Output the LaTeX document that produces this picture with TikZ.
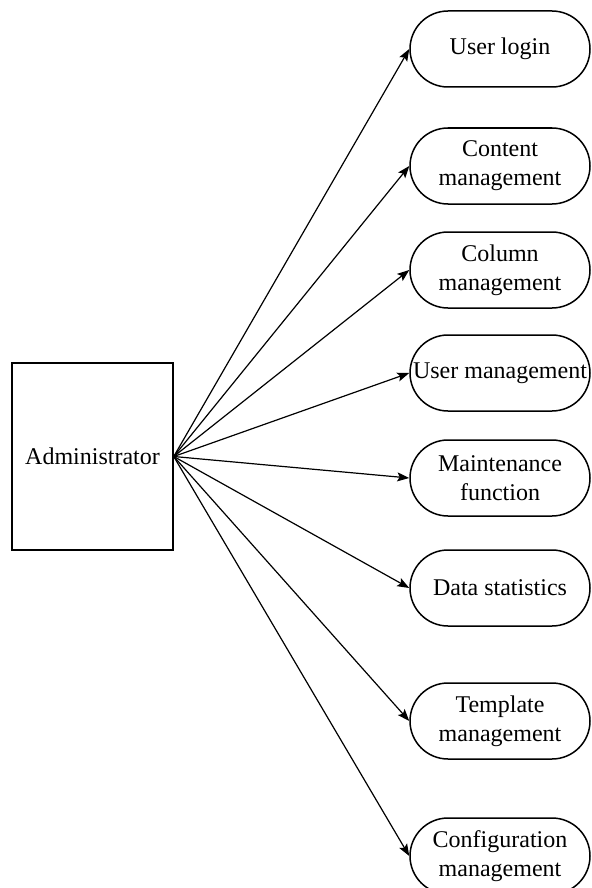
\documentclass[tikz,border=0pt]{standalone}
\usepackage{fontspec}
\setmainfont{Liberation Serif}
\usepackage{tikz}
\usetikzlibrary{shapes,arrows.meta}
\tikzset{actor/.style={rectangle,draw,line width=0.75pt,minimum width=80.5pt,minimum height=93.5pt,inner sep=0pt,font=\fontsize{12}{14.5}\selectfont}}
\tikzset{func/.style={rectangle,rounded corners=19pt,draw,line width=0.75pt,minimum width=90pt,minimum height=38pt,inner sep=0pt,align=center,font=\fontsize{12}{14.5}\selectfont}}
\begin{document}
\begin{tikzpicture}[x=0.5pt,y=-0.5pt,>={Stealth[length=6pt,width=4.5pt,inset=1.2pt]}]
    \useasboundingbox (0,0) rectangle (591,888);
    \node[actor] (adm) at (92.5,456.5) {Administrator};
    \node[func] (a) at (500,49) {User login};
    \node[func] (b) at (500,166) {Content\\management};
    \node[func] (c) at (500,270) {Column\\management};
    \node[func] (d) at (500,373) {User management};
    \node[func] (e) at (500,478) {Maintenance\\function};
    \node[func] (f) at (500,588) {Data statistics};
    \node[func] (g) at (500,721) {Template\\management};
    \node[func] (h) at (500,856) {Configuration\\management};

    \draw [->,line width=0.6pt] (adm.east) to (a.west);
    \draw [->,line width=0.6pt] (adm.east) to (b.west);
    \draw [->,line width=0.6pt] (adm.east) to (c.west);
    \draw [->,line width=0.6pt] (adm.east) to (d.west);
    \draw [->,line width=0.6pt] (adm.east) to (e.west);
    \draw [->,line width=0.6pt] (adm.east) to (f.west);
    \draw [->,line width=0.6pt] (adm.east) to (g.west);
    \draw [->,line width=0.6pt] (adm.east) to (h.west);
\end{tikzpicture}
\end{document}
